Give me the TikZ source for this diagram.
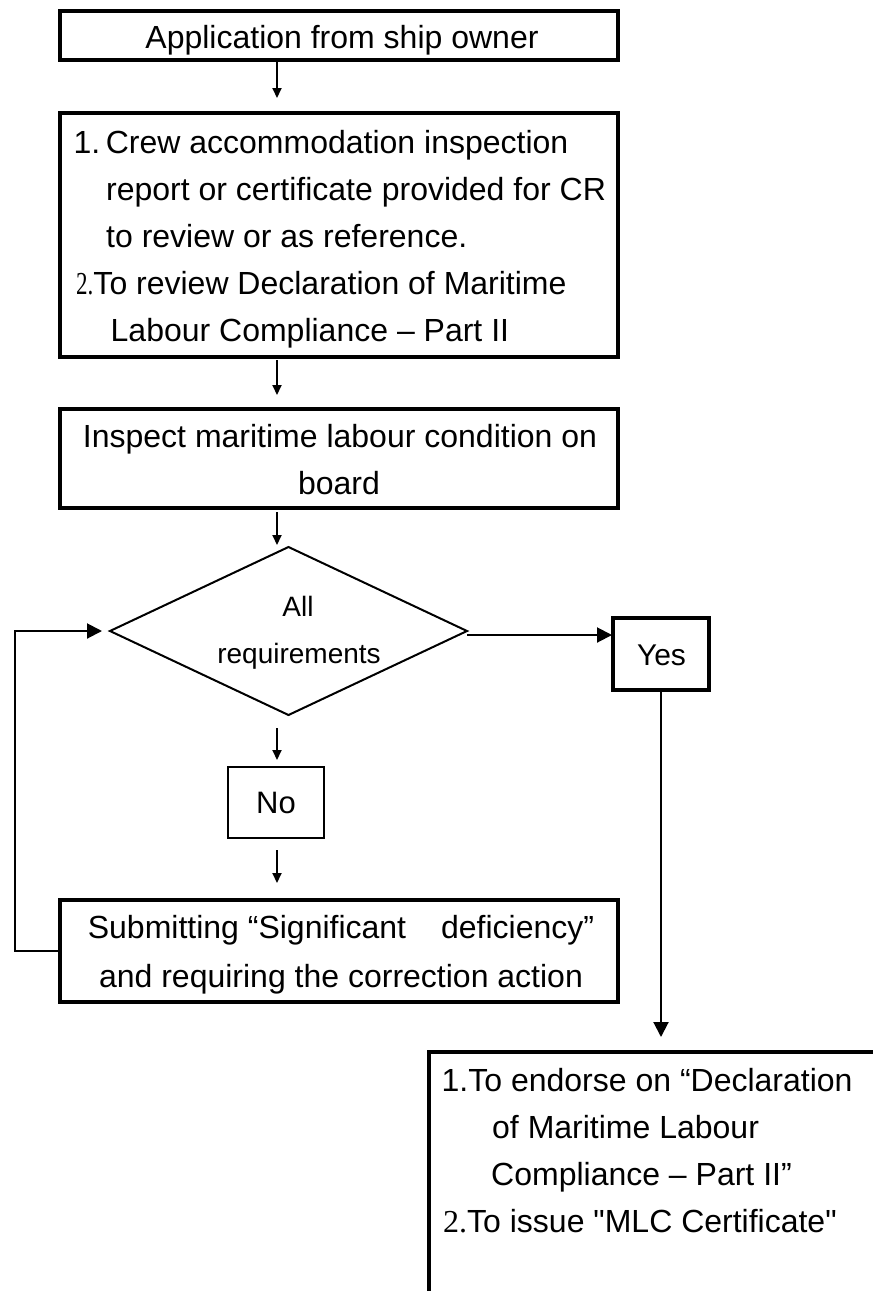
\documentclass[tikz,border=0pt]{standalone}
\usepackage{fontspec}
\setmainfont{Liberation Sans}
\newfontfamily\serifnum{Liberation Serif}
\usetikzlibrary{arrows.meta,shapes.geometric}
\newcommand\straightq{\XeTeXglyph\XeTeXcharglyph"22\relax}

\begin{document}
\begin{tikzpicture}[x=1pt,y=-1pt,
  boxn/.style={draw, line width=4pt, rectangle, outer sep=0pt, inner sep=0pt},
  thinbox/.style={draw, line width=2.5pt, rectangle, outer sep=0pt, inner sep=0pt},
  decision/.style={draw, line width=2pt, diamond, aspect=2.1, inner sep=0pt, outer sep=0pt, minimum width=357pt, minimum height=168pt},
  txt/.style={inner sep=0pt, anchor=base west, font=\fontsize{32}{38}\selectfont},
  ctxt/.style={txt, anchor=base},
  smallarr/.style={draw, line width=2pt, -{Triangle[length=10pt,width=9pt]}},
  bigarr/.style={draw, line width=2pt, -{Triangle[length=15pt,width=15pt]}},
]
\useasboundingbox (0,0) rectangle (873,1291);

% boxes
\node[boxn, minimum width=558pt, minimum height=49pt] (b1) at (339,35) {};
\node[boxn, minimum width=558pt, minimum height=244pt] (b2) at (339,235) {};
\node[boxn, minimum width=558pt, minimum height=99pt] (b3) at (339,458.5) {};
\node[decision] (dia) at (288.5,631) {};
\node[boxn, minimum width=96pt, minimum height=72pt] (yes) at (661,654) {};
\node[thinbox, minimum width=96pt, minimum height=71pt] (no) at (276,802.5) {};
\node[boxn, minimum width=558pt, minimum height=102pt] (b5) at (339,951) {};
\node[inner sep=0pt, outer sep=0pt, minimum width=448pt, minimum height=243pt] (b6) at (653,1173.5) {};
\draw[line width=4pt] (b6.south west) -- (b6.north west) -- (b6.north east);

% texts
\node[ctxt] (a1) at (342,48.3) {Application from ship owner};

\node[txt] (l1) at (73.5,153) {1.\hspace{5.5pt}Crew accommodation inspection};
\node[txt] (l2) at (106,200) {report or certificate provided for CR};
\node[txt] (l3) at (106,247) {to review or as reference.};
\node[txt] (l4) at (76,294) {\scalebox{0.72}[1]{\serifnum 2.}To review Declaration of Maritime};
\node[txt] (l5) at (110.5,341) {Labour Compliance – Part II};

\node[ctxt] (i1) at (340,447) {Inspect maritime labour condition on};
\node[ctxt] (i2) at (339,494) {board};

\node[ctxt, font=\fontsize{28}{34}\selectfont] (d1) at (298,616) {All};
\node[ctxt, font=\fontsize{28}{34}\selectfont] (d2) at (299,663) {requirements};

\node[ctxt, font=\fontsize{30}{36}\selectfont] (yt) at (661.5,665.7) {Yes};
\node[ctxt, font=\fontsize{31}{37}\selectfont] (nt) at (276,813.3) {No};

\node[ctxt] (s1) at (341,938) {Submitting “Significant\hspace{35pt}deficiency”};
\node[ctxt] (s2) at (341,987) {and requiring the correction action};

\node[txt] (m1) at (441.5,1091) {1.To endorse on “Declaration};
\node[txt] (m2) at (492,1138) {of Maritime Labour};
\node[txt] (m3) at (491,1185) {Compliance – Part II”};
\node[txt] (m4) at (443,1232) {{\serifnum 2.}To issue \straightq MLC Certificate\straightq};

% connectors
\coordinate (ax) at (277,0);
\coordinate (lp) at (15,631);
\draw[smallarr, shorten >=15pt] (b1.south -| ax) -- (b2.north -| ax);
\draw[smallarr, shorten <=3pt, shorten >=14pt] (b2.south -| ax) -- (b3.north -| ax);
\draw[smallarr, shorten <=4pt, shorten >=2pt] (b3.south -| ax) -- (dia.north -| ax);
\draw[smallarr, shorten <=13pt, shorten >=7pt] (dia.south -| ax) -- (no.north -| ax);
\draw[smallarr, shorten <=12pt, shorten >=17pt] (no.south -| ax) -- (b5.north -| ax);
\draw[bigarr, shorten >=1pt] ([yshift=-4pt]dia.east) -- ([yshift=-4pt]dia.east -| yes.west);
\draw[bigarr, shorten >=15pt] (yes.south) -- (b6.north -| yes.south);
\draw[bigarr, shorten >=8pt] (b5.west) -| (lp) -- (dia.west);
\end{tikzpicture}
\end{document}
